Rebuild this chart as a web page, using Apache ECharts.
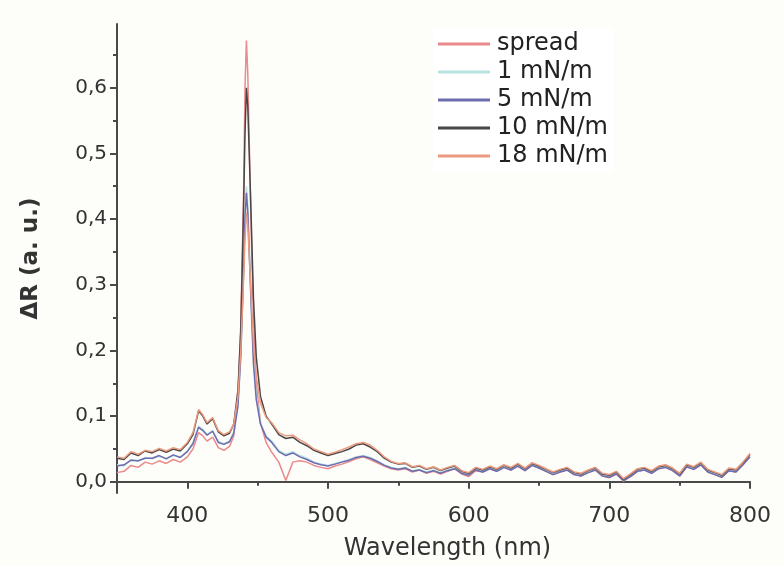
<!DOCTYPE html>
<html>
<head>
<meta charset="utf-8">
<script src="https://cdn.jsdelivr.net/npm/echarts@6/dist/echarts.min.js"></script>
<style>html,body{margin:0;padding:0;background:#fdfdf9}#c{width:784px;height:566px}</style>
</head>
<body>
<div id="c"></div>
<script>
const wavelengths = [350,355,360,365,370,375,380,385,390,395,400,404,408,411,414,418,422,426,430,433,436,438,440,441,442,443,445,447,449,452,456,460,
465,470,475,480,485,490,495,500,505,510,515,520,525,530,535,540,545,550,555,560,565,570,575,580,585,590,595,600,605,610,615,620,625,630,635,640,645,650,655,660,665,670,675,680,685,690,695,700,705,710,715,720,725,730,735,740,745,750,755,760,765,770,775,780,785,790,795,800];

const seriesNames = ['spread','1 mN/m','5 mN/m','10 mN/m','18 mN/m'];

const spread = [.014,.016,.025,.022,.030,.027,.032,.028,.034,.030,.038,.050,.075,.070,.062,.068,.052,.048,.054,.070,.130,.240,.440,.600,.672,.620,.420,.250,.150,.090,.060,.045,
.030,.002,.030,.032,.030,.025,.022,.020,.024,.027,.031,.035,.038,.034,.029,.024,.020,.018,.020,.015,.018,.013,.016,.012,.016,.020,.012,.008,.017,.015,.020,.016,.022,.018,.024,.017,.025,.021,.016,.011,.015,.018,.011,.009,.014,.018,.009,.006,.012,.001,.008,.016,.018,.013,.020,.022,.017,.009,.023,.019,.026,.015,.011,.007,.017,.015,.026,.038];

const mN1 = [.026,.024,.034,.031,.037,.035,.039,.036,.040,.038,.047,.060,.085,.080,.072,.078,.062,.058,.062,.076,.120,.200,.330,.410,.450,.420,.300,.190,.130,.090,.070,.062,
.048,.042,.046,.040,.036,.030,.027,.025,.028,.031,.034,.038,.040,.037,.032,.026,.022,.020,.022,.017,.019,.015,.018,.014,.018,.021,.014,.011,.019,.016,.021,.017,.023,.019,.025,.018,.026,.022,.017,.012,.016,.019,.012,.010,.015,.019,.010,.008,.013,.003,.009,.017,.019,.014,.021,.023,.018,.010,.024,.020,.027,.016,.012,.008,.018,.016,.027,.039];

const mN5 = [.024,.026,.033,.032,.036,.036,.040,.035,.041,.037,.046,.058,.083,.078,.071,.077,.060,.057,.061,.074,.115,.190,.320,.400,.440,.410,.290,.180,.125,.088,.068,.060,
.046,.040,.044,.038,.034,.029,.026,.024,.027,.030,.033,.037,.039,.036,.031,.025,.021,.019,.021,.016,.018,.014,.017,.013,.017,.020,.013,.010,.018,.015,.020,.016,.022,.018,.024,.017,.025,.021,.016,.011,.015,.018,.011,.009,.014,.018,.009,.007,.012,.002,.008,.016,.018,.013,.020,.022,.017,.009,.023,.019,.026,.015,.011,.007,.017,.015,.026,.038];

const mN10 = [.036,.034,.044,.040,.047,.044,.049,.045,.050,.047,.058,.072,.108,.100,.088,.096,.076,.070,.074,.088,.140,.230,.420,.530,.600,.570,.430,.280,.190,.130,.100,.088,
.072,.066,.068,.060,.055,.048,.044,.040,.043,.046,.050,.056,.058,.053,.046,.036,.030,.027,.028,.022,.024,.019,.022,.017,.021,.024,.016,.013,.021,.018,.023,.019,.025,.021,.027,.020,.028,.024,.019,.014,.018,.021,.014,.012,.017,.021,.012,.010,.015,.004,.011,.019,.021,.016,.023,.025,.020,.012,.026,.022,.029,.018,.014,.010,.020,.018,.029,.042];

const mN18 = [.038,.036,.046,.042,.048,.046,.051,.047,.052,.049,.060,.075,.110,.102,.090,.098,.078,.072,.076,.088,.130,.200,.310,.370,.410,.390,.300,.210,.160,.120,.098,.090,
.075,.070,.071,.064,.058,.050,.046,.042,.045,.049,.053,.058,.060,.056,.048,.038,.031,.028,.029,.023,.025,.020,.023,.018,.022,.025,.017,.014,.022,.019,.024,.020,.026,.022,.028,.021,.029,.025,.020,.015,.019,.022,.015,.013,.018,.022,.013,.011,.016,.005,.012,.020,.022,.017,.024,.026,.021,.013,.027,.023,.030,.019,.015,.011,.021,.019,.030,.043];

const xMajorTicks = [400,500,600,700,800];
const xMinorTicks = [450,550,650,750];
const yMajorTicks = [0,0.1,0.2,0.3,0.4,0.5,0.6];
const yMinorTicks = [0.05,0.15,0.25,0.35,0.45,0.55,0.65];

const allData = [spread, mN1, mN5, mN10, mN18];
allData.forEach((a,i)=>{ if(a.length!==wavelengths.length) throw new Error('length mismatch '+seriesNames[i]+' '+a.length); });

const colors = ['#ea8a8c','#b8e2e0','#6c6cae','#4a4646','#ec9a80'];
const FONT = 'DejaVu Sans';
const AX = '#4a4a4a';

const chart = echarts.init(document.getElementById('c'), null, {renderer:'canvas'});
const xMin = 350, xMax = 800, yMin = -0.017, yMax = 0.697;

chart.setOption({
  backgroundColor: '#fdfdf9',
  animation: false,
  grid: {left:117, right:34, top:24, bottom:73},
  legend: {
    orient:'vertical', left:433, top:27, itemWidth:52, itemHeight:3, itemGap:4,
    icon:'rect',
    data: seriesNames,
    backgroundColor:'#ffffff',
    textStyle:{fontFamily:FONT, fontSize:24, color:'#222', lineHeight:24, padding:[0,0,0,2]}
  },
  xAxis: [{
    type:'value', min:xMin, max:xMax, position:'bottom',
    name:'Wavelength (nm)', nameLocation:'middle', nameGap:44,
    nameTextStyle:{fontFamily:FONT, fontSize:24, color:'#333', padding:[0,0,0,28]},
    axisLine:{lineStyle:{color:AX, width:2}},
    axisTick:{customValues:xMajorTicks, length:7, lineStyle:{color:AX, width:2}},
    axisLabel:{customValues:xMajorTicks, fontFamily:FONT, fontSize:22, color:'#333', margin:12},
    splitLine:{show:false}
  },{
    type:'value', min:xMin, max:xMax, position:'bottom',
    axisLine:{show:false},
    axisTick:{customValues:xMinorTicks, length:4, lineStyle:{color:AX, width:2}},
    axisLabel:{show:false}, splitLine:{show:false}
  }],
  yAxis: [{
    type:'value', min:yMin, max:yMax, position:'left',
    name:'ΔR (a. u.)', nameLocation:'middle', nameGap:74, nameRotate:90,
    nameTextStyle:{fontFamily:FONT, fontSize:23, color:'#333', fontWeight:'bold'},
    axisLine:{show:true, lineStyle:{color:AX, width:2}},
    axisTick:{show:true, customValues:yMajorTicks, length:7, lineStyle:{color:AX, width:2}},
    axisLabel:{customValues:yMajorTicks, fontFamily:FONT, fontSize:20, color:'#333', margin:10,
      formatter: v => v.toFixed(1).replace('.', ',')},
    splitLine:{show:false}
  },{
    type:'value', min:yMin, max:yMax, position:'left',
    axisLine:{show:false},
    axisTick:{show:true, customValues:yMinorTicks, length:4, lineStyle:{color:AX, width:2}},
    axisLabel:{show:false}, splitLine:{show:false}
  }],
  series: seriesNames.map((n,i)=>({
    name:n, type:'line', symbol:'none', xAxisIndex:0, yAxisIndex:0,
    lineStyle:{color:colors[i], width:1.5}, itemStyle:{color:colors[i]},
    data: wavelengths.map((w,k)=>[w, allData[i][k]])
  }))
});
</script>
</body>
</html>
